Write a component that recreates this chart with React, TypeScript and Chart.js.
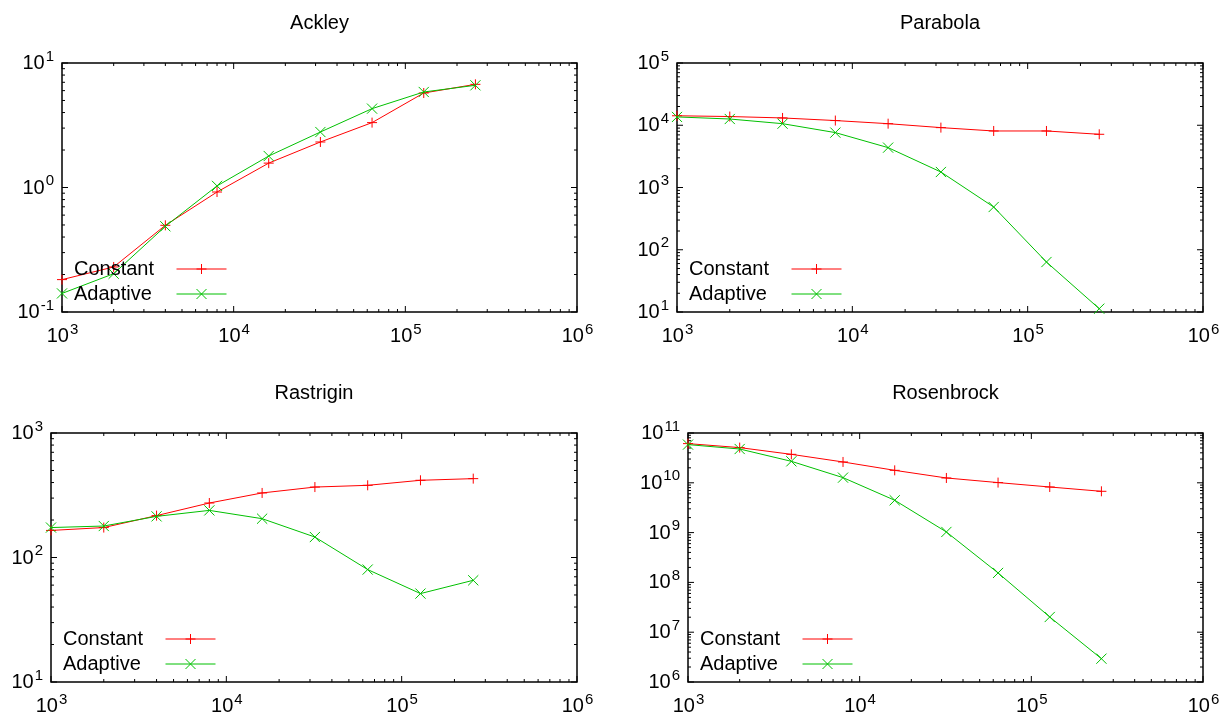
import React, { useEffect, useRef } from "react";
import { Chart, registerables } from "chart.js";

Chart.register(...registerables);

// ---------- data ----------
const SAMPLES = [1000, 2000, 4000, 8000, 16000, 32000, 64000, 128000, 256000];
const X_EXPONENTS = [3, 4, 5, 6];
const SERIES_LABELS = ["Constant", "Adaptive"];

const ACKLEY_CONSTANT = [0.182, 0.23, 0.497, 0.92, 1.57, 2.32, 3.32, 5.74, 6.74];
const ACKLEY_ADAPTIVE = [0.141, 0.203, 0.488, 1.03, 1.79, 2.79, 4.3, 5.85, 6.62];
const ACKLEY_Y_EXPONENTS = [-1, 0, 1];

const PARABOLA_CONSTANT = [14200, 13800, 13100, 11900, 10600, 9160, 8090, 8090, 7160];
const PARABOLA_ADAPTIVE = [13600, 12600, 10600, 7620, 4370, 1775, 486, 63.5, 11.3];
const PARABOLA_Y_EXPONENTS = [1, 2, 3, 4, 5];

const RASTRIGIN_CONSTANT = [165, 174, 217, 274, 330, 368, 380, 417, 430];
const RASTRIGIN_ADAPTIVE = [174, 179, 214, 239, 205, 146, 80, 51.3, 65.6];
const RASTRIGIN_Y_EXPONENTS = [1, 2, 3];

const ROSENBROCK_CONSTANT = [6.12e10, 5.09e10, 3.73e10, 2.62e10, 1.78e10, 1.25e10, 1.01e10, 8.24e9, 6.75e9];
const ROSENBROCK_ADAPTIVE = [5.85e10, 4.77e10, 2.7e10, 1.27e10, 4.46e9, 1.03e9, 1.55e8, 2.02e7, 2.94e6];
const ROSENBROCK_Y_EXPONENTS = [6, 7, 8, 9, 10, 11];

// ---------- style ----------
const RED = "#ff0000";
const GREEN = "#00c000";
const FAMILY = '"Liberation Sans", Arial, Helvetica, sans-serif';
const BASE_FONT = `20px ${FAMILY}`;
const EXP_FONT = `15px ${FAMILY}`;
const TEXT_FONT = `20px ${FAMILY}`;

type PanelCfg = {
  title: string;
  constant: number[];
  adaptive: number[];
  yExps: number[];
  left: number;
  top: number;
  w: number;
  h: number;
  pad: { left: number; right: number; top: number; bottom: number };
};

const PANELS: PanelCfg[] = [
  { title: "Ackley", constant: ACKLEY_CONSTANT, adaptive: ACKLEY_ADAPTIVE, yExps: ACKLEY_Y_EXPONENTS,
    left: 0, top: 0, w: 612, h: 358, pad: { left: 62, right: 35, top: 63, bottom: 46 } },
  { title: "Parabola", constant: PARABOLA_CONSTANT, adaptive: PARABOLA_ADAPTIVE, yExps: PARABOLA_Y_EXPONENTS,
    left: 612, top: 0, w: 613, h: 358, pad: { left: 65, right: 22, top: 63, bottom: 46 } },
  { title: "Rastrigin", constant: RASTRIGIN_CONSTANT, adaptive: RASTRIGIN_ADAPTIVE, yExps: RASTRIGIN_Y_EXPONENTS,
    left: 0, top: 358, w: 612, h: 359, pad: { left: 51, right: 35, top: 75, bottom: 35 } },
  { title: "Rosenbrock", constant: ROSENBROCK_CONSTANT, adaptive: ROSENBROCK_ADAPTIVE, yExps: ROSENBROCK_Y_EXPONENTS,
    left: 612, top: 358, w: 613, h: 359, pad: { left: 76, right: 22, top: 75, bottom: 35 } },
];

function drawPow(ctx: CanvasRenderingContext2D, exp: number, x: number, baseY: number, align: "right" | "center", raise: number) {
  const base = "10";
  const e = String(exp);
  ctx.font = BASE_FONT;
  const wb = ctx.measureText(base).width;
  ctx.font = EXP_FONT;
  const we = ctx.measureText(e).width;
  const total = wb + we;
  const start = align === "right" ? x - total : x - total / 2;
  ctx.textAlign = "left";
  ctx.textBaseline = "alphabetic";
  ctx.fillStyle = "#000";
  ctx.font = BASE_FONT;
  ctx.fillText(base, start, baseY);
  ctx.font = EXP_FONT;
  ctx.fillText(e, start + wb + 1, baseY - raise);
}

function drawMarker(ctx: CanvasRenderingContext2D, kind: "plus" | "x", cx: number, cy: number, r: number) {
  ctx.beginPath();
  if (kind === "plus") {
    ctx.moveTo(cx - r, cy); ctx.lineTo(cx + r, cy);
    ctx.moveTo(cx, cy - r); ctx.lineTo(cx, cy + r);
  } else {
    ctx.moveTo(cx - r, cy - r); ctx.lineTo(cx + r, cy + r);
    ctx.moveTo(cx - r, cy + r); ctx.lineTo(cx + r, cy - r);
  }
  ctx.stroke();
}

function makePlugin(cfg: PanelCfg) {
  return {
    id: "gnuplotFrame",
    beforeDatasetsDraw(chart: any) {
      const { ctx, chartArea: a, scales } = chart;
      const x = scales.x, y = scales.y;
      ctx.save();
      ctx.strokeStyle = "#000";
      ctx.lineWidth = 1;
      const seg = (x1: number, y1: number, x2: number, y2: number) => {
        ctx.beginPath(); ctx.moveTo(x1, y1); ctx.lineTo(x2, y2); ctx.stroke();
      };
      const yTick = (v: number, len: number) => {
        const p = y.getPixelForValue(v);
        seg(a.left, p, a.left + len, p);
        seg(a.right, p, a.right - len, p);
      };
      const xTick = (v: number, len: number) => {
        const p = x.getPixelForValue(v);
        seg(p, a.bottom, p, a.bottom - len);
        seg(p, a.top, p, a.top + len);
      };
      const ye = cfg.yExps;
      for (let i = 0; i < ye.length; i++) {
        yTick(Math.pow(10, ye[i]), 6);
        if (i < ye.length - 1) for (let k = 2; k <= 9; k++) yTick(k * Math.pow(10, ye[i]), 3);
      }
      for (let i = 0; i < X_EXPONENTS.length; i++) {
        xTick(Math.pow(10, X_EXPONENTS[i]), 6);
        if (i < X_EXPONENTS.length - 1) for (let k = 2; k <= 9; k++) xTick(k * Math.pow(10, X_EXPONENTS[i]), 3);
      }
      ctx.lineWidth = 1.5;
      ctx.strokeRect(a.left, a.top, a.right - a.left, a.bottom - a.top);
      ctx.restore();
    },
    afterDraw(chart: any) {
      const { ctx, chartArea: a, scales } = chart;
      const x = scales.x, y = scales.y;
      ctx.save();
      // y tick labels
      for (const e of cfg.yExps) {
        const p = y.getPixelForValue(Math.pow(10, e));
        drawPow(ctx, e, a.left - 9, p + 6, "right", 8.5);
      }
      // x tick labels
      for (const e of X_EXPONENTS) {
        const p = x.getPixelForValue(Math.pow(10, e));
        drawPow(ctx, e, p, a.bottom + 29.5, "center", 7.5);
      }
      // title
      ctx.font = TEXT_FONT;
      ctx.fillStyle = "#000";
      ctx.textAlign = "center";
      ctx.textBaseline = "alphabetic";
      ctx.fillText(cfg.title, (a.left + a.right) / 2, a.top - 34);
      // legend
      const rows: [string, string, "plus" | "x"][] = [
        [SERIES_LABELS[0], RED, "plus"],
        [SERIES_LABELS[1], GREEN, "x"],
      ];
      const rowY = [a.bottom - 43, a.bottom - 18];
      rows.forEach(([label, color, kind], i) => {
        const ry = rowY[i];
        ctx.font = TEXT_FONT;
        ctx.fillStyle = "#000";
        ctx.textAlign = "left";
        ctx.textBaseline = "middle";
        ctx.fillText(label, a.left + 12, ry);
        ctx.strokeStyle = color;
        ctx.lineWidth = 1;
        const x1 = a.left + 114.5, x2 = a.left + 164.5;
        ctx.beginPath(); ctx.moveTo(x1, ry); ctx.lineTo(x2, ry); ctx.stroke();
        drawMarker(ctx, kind, (x1 + x2) / 2, ry, 5);
      });
      ctx.restore();
    },
  };
}

function Panel({ cfg }: { cfg: PanelCfg }) {
  const ref = useRef<HTMLCanvasElement | null>(null);
  useEffect(() => {
    if (!ref.current) return;
    const ye = cfg.yExps;
    const chart = new Chart(ref.current, {
      type: "line",
      data: {
        labels: SAMPLES,
        datasets: [
          {
            label: SERIES_LABELS[0],
            data: SAMPLES.map((s, i) => ({ x: s, y: cfg.constant[i] })),
            borderColor: RED,
            backgroundColor: RED,
            borderWidth: 1,
            pointStyle: "cross",
            pointRadius: 5,
            pointBorderWidth: 1,
            pointBorderColor: RED,
            fill: false,
            tension: 0,
            clip: false as any,
            order: 1,
          },
          {
            label: SERIES_LABELS[1],
            data: SAMPLES.map((s, i) => ({ x: s, y: cfg.adaptive[i] })),
            borderColor: GREEN,
            backgroundColor: GREEN,
            borderWidth: 1,
            pointStyle: "crossRot",
            pointRadius: 7.2,
            pointBorderWidth: 1,
            pointBorderColor: GREEN,
            fill: false,
            tension: 0,
            clip: false as any,
            order: 0,
          },
        ],
      },
      options: {
        responsive: false,
        animation: false,
        devicePixelRatio: 1,
        layout: { padding: cfg.pad },
        plugins: { legend: { display: false }, title: { display: false }, tooltip: { enabled: false } },
        events: [],
        scales: {
          x: { type: "logarithmic", min: 1000, max: 1e6, display: false },
          y: { type: "logarithmic", min: Math.pow(10, ye[0]), max: Math.pow(10, ye[ye.length - 1]), display: false },
        },
      },
      plugins: [makePlugin(cfg)],
    } as any);
    return () => chart.destroy();
  }, [cfg]);
  return (
    <canvas
      ref={ref}
      width={cfg.w}
      height={cfg.h}
      style={{ position: "absolute", left: cfg.left, top: cfg.top, width: cfg.w, height: cfg.h }}
    />
  );
}

export default function App() {
  return (
    <div style={{ position: "absolute", left: 0, top: 0, width: 1225, height: 717, background: "#fff", overflow: "hidden" }}>
      {PANELS.map((p) => (
        <Panel key={p.title} cfg={p} />
      ))}
    </div>
  );
}
